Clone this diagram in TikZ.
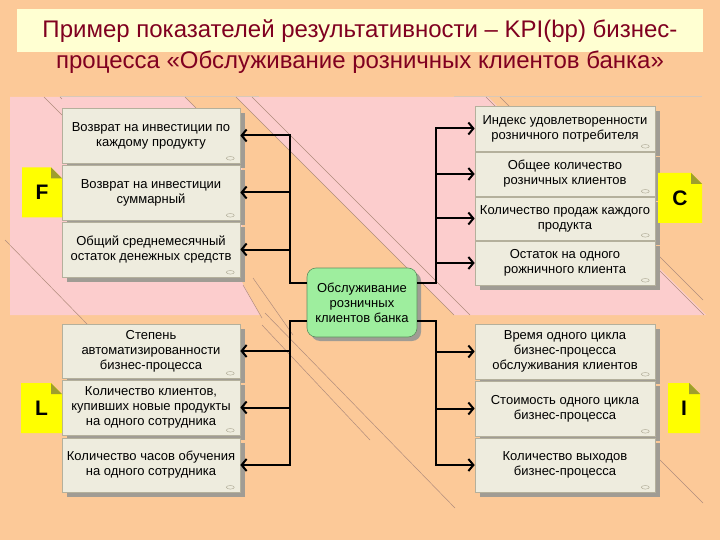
\documentclass[tikz,border=0pt]{standalone}
\usepackage{fontspec}
\setmainfont{Liberation Sans}
\usetikzlibrary{arrows.meta,shadows}
\definecolor{peach}{HTML}{FCC998}
\definecolor{pinkbg}{HTML}{FCCDCD}
\definecolor{titlebox}{HTML}{FFFFD2}
\definecolor{titletext}{HTML}{800020}
\definecolor{boxfill}{HTML}{EEECDE}
\definecolor{boxborder}{HTML}{B4B09C}
\definecolor{shadowgray}{HTML}{A09C94}
\definecolor{procgreen}{HTML}{9EEE9E}
\definecolor{procborder}{HTML}{5E8E5E}
\definecolor{noteyellow}{HTML}{FFFF00}
\definecolor{notefold}{HTML}{9E9E2E}
\definecolor{decor}{HTML}{B08C7C}
\definecolor{topline}{HTML}{D8C8B8}
\tikzset{
  kpi/.style={draw=boxborder, fill=boxfill, line width=0.6pt, minimum height=55pt,
    align=center, inner sep=1pt, font=\fontsize{13}{15}\selectfont,
    drop shadow={opacity=1, fill=shadowgray, shadow xshift=5pt, shadow yshift=-5pt}},
  kpil/.style={kpi, minimum width=178pt},
  kpir/.style={kpi, minimum width=180pt},
  proc/.style={draw=procborder, fill=procgreen, line width=0.6pt, rounded corners=9pt,
    minimum width=110pt, minimum height=69pt, align=center, inner sep=1pt,
    font=\fontsize{13}{15}\selectfont,
    drop shadow={opacity=1, fill=shadowgray, shadow xshift=4pt, shadow yshift=-4pt}},
  note/.style={minimum height=50pt, inner sep=0pt, font=\fontsize{21}{21}\selectfont\bfseries,
    path picture={
      \fill[noteyellow] (path picture bounding box.south west) -- (path picture bounding box.south east)
        -- ([yshift=-11pt]path picture bounding box.north east) -- ([xshift=-11pt]path picture bounding box.north east)
        -- (path picture bounding box.north west) -- cycle;
      \fill[notefold] ([xshift=-11pt]path picture bounding box.north east)
        -- ([xshift=-11pt,yshift=-11pt]path picture bounding box.north east)
        -- ([yshift=-11pt]path picture bounding box.north east) -- cycle;
    }},
  arr/.style={line width=2pt, -{Straight Barb[length=5pt,width=12pt]}},
  ovalmark/.style={draw=boxborder, line width=0.5pt},
  decoline/.style={draw=decor, line width=0.5pt},
}
\begin{document}
\begin{tikzpicture}[x=1pt,y=-1pt]
\useasboundingbox (0,0) rectangle (720,540);
% background
\fill[peach] (0,0) rectangle (720,540);
\fill[pinkbg] (10,97) -- (185,97) -- (242,154) -- (242,282) -- (260,315) -- (10,315) -- cycle;
\fill[pinkbg] (236,97) -- (488,97) -- (706,315) -- (454,315) -- cycle;
\draw[topline, line width=0.8pt] (60,96) -- (259,96);
\draw[topline, line width=0.8pt] (454,96) -- (702,96);
\draw[decoline] (236,97) -- (454,315);
\draw[decoline] (252,97) -- (470,315);
\draw[decoline] (486,97) -- (704,315);
\draw[decoline] (500,97) -- (703,300);
\draw[decoline] (44,97) -- (62,115);
\draw[decoline] (60,97) -- (62,99);
\draw[decoline] (185,97) -- (196,108);
\draw[decoline] (5,240) -- (88,325);
\draw[decoline] (243,285) -- (262,318);
\draw[decoline] (253,278) -- (293,335);
\draw[decoline] (265,313) -- (455,508);
\draw[decoline] (262,325) -- (370,440);
\draw[decoline] (660,460) -- (703,503);
% title
\fill[titlebox] (17,9) rectangle (703,52);
\node[text=titletext, align=center, font=\fontsize{24}{31}\selectfont] (title) at (360,47)
  {Пример показателей результативности – KPI(bp) бизнес-\\процесса «Обслуживание розничных клиентов банка»};
% F group
\node[kpil] (F1) at (151,135.5) {Возврат на инвестиции по\\каждому продукту};
\node[kpil] (F2) at (151,192.5) {Возврат на инвестиции\\суммарный};
\node[kpil] (F3) at (151,249.5) {Общий среднемесячный\\остаток денежных средств};
% L group
\node[kpil, minimum height=54pt] (L1) at (151,351) {Степень\\автоматизированности\\бизнес-процесса};
\node[kpil] (L2) at (151,407.5) {Количество клиентов,\\купивших новые продукты\\на одного сотрудника};
\node[kpil, minimum height=54pt] (L3) at (151,465) {Количество часов обучения\\на одного сотрудника};
% C group
\node[kpir, minimum height=45pt] (C1) at (565,128.5) {Индекс удовлетворенности\\розничного потребителя};
\node[kpir, minimum height=44pt] (C2) at (565,174) {Общее количество\\розничных клиентов};
\node[kpir, minimum height=43pt] (C3) at (565,218.5) {Количество продаж каждого\\продукта};
\node[kpir, minimum height=44pt] (C4) at (565,263) {Остаток на одного\\рожничного клиента};
% I group
\node[kpir] (I1) at (565,351.5) {Время одного цикла\\бизнес-процесса\\обслуживания клиентов};
\node[kpir] (I2) at (565,408.5) {Стоимость одного цикла\\бизнес-процесса};
\node[kpir, minimum height=54pt] (I3) at (565,465) {Количество выходов\\бизнес-процесса};
\foreach \n in {F1,F2,F3,L1,L2,L3,C1,C2,C3,C4,I1,I2,I3}
  \draw[ovalmark] ([xshift=-10pt,yshift=5pt]\n.south east) ellipse [x radius=4pt, y radius=1.8pt];
% notes
\node[note, minimum width=40pt] (nF) at (42,192.5) {F};
\node[note, minimum width=44pt] (nC) at (680,198) {C};
\node[note, minimum width=41pt] (nL) at (41.5,408) {L};
\node[note, minimum width=32pt] (nI) at (684,408) {I};
% central process
\node[proc] (G) at (362,302.5) {Обслуживание\\розничных\\клиентов банка};
% connectors
\coordinate (xL) at (290,0);
\coordinate (xR) at (436,0);
\draw[arr] ([yshift=-15pt]G.north west) -| (xL |- F1.east) -- (F1.east);
\draw[arr] (xL |- F2.east) -- (F2.east);
\draw[arr] (xL |- F3.east) -- (F3.east);
\draw[arr] ([yshift=16pt]G.south west) -| (xL |- L3.east) -- (L3.east);
\draw[arr] (xL |- L1.east) -- (L1.east);
\draw[arr] (xL |- L2.east) -- (L2.east);
\draw[arr] ([yshift=-15pt]G.north east) -| (xR |- C1.west) -- (C1.west);
\draw[arr] (xR |- C2.west) -- (C2.west);
\draw[arr] (xR |- C3.west) -- (C3.west);
\draw[arr] (xR |- C4.west) -- (C4.west);
\draw[arr] ([yshift=16pt]G.south east) -| (xR |- I3.west) -- (I3.west);
\draw[arr] (xR |- I1.west) -- (I1.west);
\draw[arr] (xR |- I2.west) -- (I2.west);
\end{tikzpicture}
\end{document}
